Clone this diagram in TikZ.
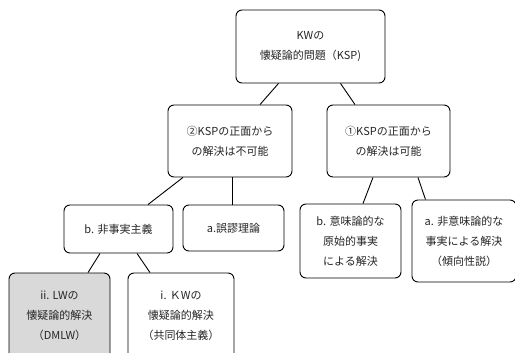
\documentclass[tikz,border=0pt]{standalone}
\usepackage{fontspec}
\setmainfont{Noto Sans CJK JP}
\begin{document}
\begin{tikzpicture}[x=1pt,y=-1pt,
  box/.style={draw=black,line width=0.9pt,rounded corners=6pt,fill=white,inner sep=0pt,
    align=center,font=\fontsize{11}{20}\selectfont,text=black!85},
  link/.style={draw=black,line width=0.9pt}]
\useasboundingbox (0,0) rectangle (515,353);
\clip (0,0) rectangle (515,353);
% boxes: centre, width, height
\node[box,minimum width=149pt,minimum height=73pt] (top) at (310.5,46.5) {KWの\\懐疑論的問題（KSP)};
\node[box,minimum width=124pt,minimum height=72pt] (neg) at (230,141) {②KSPの正面から\\の解決は不可能};
\node[box,minimum width=123pt,minimum height=72pt] (pos) at (388.5,141) {①KSPの正面から\\の解決は可能};
\node[box,minimum width=109pt,minimum height=48pt] (nonfact) at (118.5,229) {b. 非事実主義};
\node[box,minimum width=101pt,minimum height=46pt] (error) at (233.5,228) {a.誤謬理論};
\node[box,minimum width=101pt,minimum height=74pt] (sem) at (350.5,241) {b. 意味論的な\\原始的事実\\による解決};
\node[box,minimum width=104pt,minimum height=82pt] (nonsem) at (464,241) {a. 非意味論的な\\事実による解決\\（傾向性説）};
\node[box,fill=black!15,minimum width=101pt,minimum height=86pt] (lw) at (59.5,316) {ii. LWの\\懐疑論的解決\\（DMLW）};
\node[box,minimum width=106pt,minimum height=86pt] (kw) at (181,316) {i. ＫWの\\懐疑論的解決\\（共同体主義）};
% connectors
\draw[link] ([xshift=-32pt]top.south) -- ([xshift=30pt]neg.north);
\draw[link] ([xshift=30pt]top.south) -- ([xshift=-33.5pt]pos.north);
\draw[link] ([xshift=-47pt]neg.south) -- ([xshift=29.5pt]nonfact.north);
\draw[link] ([xshift=2pt]neg.south) -- ([xshift=-1.5pt]error.north);
\draw[link] ([xshift=-15.5pt]pos.south) -- ([xshift=12.5pt]sem.north);
\draw[link] ([xshift=29.5pt]pos.south) -- ([xshift=-38.5pt]nonsem.north);
\draw[link] ([xshift=-18.5pt]nonfact.south) -- ([xshift=28.5pt]lw.north);
\draw[link] ([xshift=18.5pt]nonfact.south) -- ([xshift=-31pt]kw.north);
\end{tikzpicture}
\end{document}
